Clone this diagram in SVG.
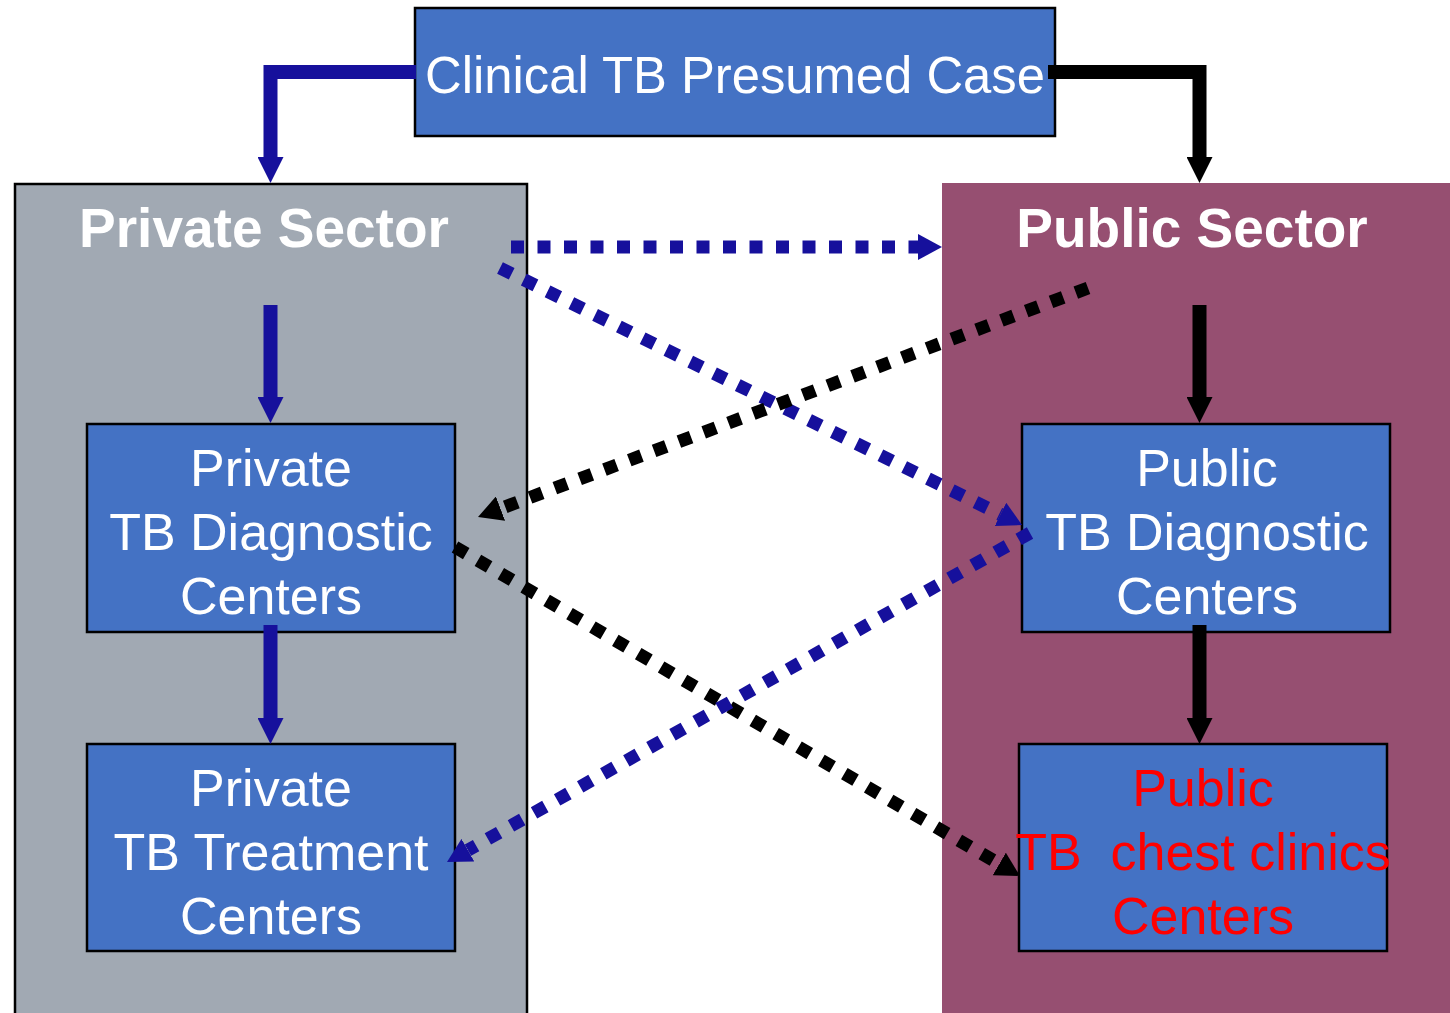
<svg xmlns="http://www.w3.org/2000/svg" width="1450" height="1013" viewBox="0 0 1450 1013">
  <style>
    .box { fill: #4472C4; stroke: #000; stroke-width: 2.5; }
    .label { font-family: "Liberation Sans", Arial, sans-serif; font-size: 52px; fill: #fff; text-anchor: middle; }
    .red { fill: #FF0000; }
    .head { font-family: "Liberation Sans", Arial, sans-serif; font-weight: bold; font-size: 55px; fill: #fff; text-anchor: middle; }
    .solid { fill: none; stroke-width: 14; stroke-linejoin: miter; stroke-linecap: butt; }
    .dot { fill: none; stroke-width: 13; stroke-dasharray: 13 13.5; stroke-linecap: butt; }
    .blue { stroke: #16109C; }
    .black { stroke: #000; }
  </style>
  <defs>
    <marker id="arrBlue" markerUnits="userSpaceOnUse" markerWidth="26" markerHeight="26" refX="0" refY="13" orient="auto">
      <path d="M0,0 L26,13 L0,26 z" fill="#16109C"/>
    </marker>
    <marker id="arrBlack" markerUnits="userSpaceOnUse" markerWidth="26" markerHeight="26" refX="0" refY="13" orient="auto">
      <path d="M0,0 L26,13 L0,26 z" fill="#000"/>
    </marker>
    <marker id="dotBlue" markerUnits="userSpaceOnUse" markerWidth="24" markerHeight="26" refX="0" refY="13" orient="auto">
      <path d="M0,0 L24,13 L0,26 z" fill="#16109C"/>
    </marker>
    <marker id="dotBlack" markerUnits="userSpaceOnUse" markerWidth="24" markerHeight="26" refX="0" refY="13" orient="auto">
      <path d="M0,0 L24,13 L0,26 z" fill="#000"/>
    </marker>
  </defs>

  <rect width="1450" height="1013" fill="#fff"/>

  <!-- sector panels -->
  <g id="private-sector">
    <rect x="15" y="184" width="512" height="840" fill="#A1A9B3" stroke="#000" stroke-width="2.5"/>
    <text class="head" x="264" y="247">Private Sector</text>
  </g>
  <g id="public-sector">
    <rect x="942" y="183" width="520" height="840" fill="#964F71"/>
    <text class="head" x="1192" y="247">Public Sector</text>
  </g>

  <!-- top node -->
  <g id="presumed-case">
    <rect class="box" x="415" y="8" width="640" height="128"/>
    <text class="label" x="735" y="93" textLength="620" lengthAdjust="spacingAndGlyphs">Clinical TB Presumed Case</text>
  </g>

  <g id="private-diagnostic">
    <rect class="box" x="87" y="424" width="368" height="208"/>
    <text class="label" x="271" y="486">Private</text>
    <text class="label" x="271" y="550">TB Diagnostic</text>
    <text class="label" x="271" y="614">Centers</text>
  </g>

  <g id="private-treatment">
    <rect class="box" x="87" y="744" width="368" height="207"/>
    <text class="label" x="271" y="806">Private</text>
    <text class="label" x="271" y="870">TB Treatment</text>
    <text class="label" x="271" y="934">Centers</text>
  </g>

  <g id="public-diagnostic">
    <rect class="box" x="1022" y="424" width="368" height="208"/>
    <text class="label" x="1207" y="486">Public</text>
    <text class="label" x="1207" y="550">TB Diagnostic</text>
    <text class="label" x="1207" y="614">Centers</text>
  </g>

  <g id="public-chest-clinics">
    <rect class="box" x="1019" y="744" width="368" height="207"/>
    <text class="label red" x="1203" y="806">Public</text>
    <text class="label red" x="1203" y="870" xml:space="preserve">TB  chest clinics</text>
    <text class="label red" x="1203" y="934">Centers</text>
  </g>

  <!-- connectors -->
  <g id="connectors">
    <!-- solid flows -->
    <path class="solid blue" d="M416,72 H270.5 V157" marker-end="url(#arrBlue)"/>
    <path class="solid black" d="M1048,72 H1199.5 V157" marker-end="url(#arrBlack)"/>
    <path class="solid blue" d="M270.5,305 V397" marker-end="url(#arrBlue)"/>
    <path class="solid blue" d="M270.5,625 V718" marker-end="url(#arrBlue)"/>
    <path class="solid black" d="M1199.5,305 V397" marker-end="url(#arrBlack)"/>
    <path class="solid black" d="M1199.5,625 V718" marker-end="url(#arrBlack)"/>

    <!-- dotted cross referrals -->
    <path class="dot blue" d="M511,247 H918" marker-end="url(#dotBlue)"/>
    <path class="dot blue" d="M500,268 L1000.5,514.4" marker-end="url(#dotBlue)"/>
    <path class="dot black" d="M1088,288 L500.5,508.6" marker-end="url(#dotBlack)"/>
    <path class="dot black" d="M455,547 L999.3,863.9" marker-end="url(#dotBlack)"/>
    <path class="dot blue" d="M1030,533 L467.9,850.2" marker-end="url(#dotBlue)"/>
  </g>
</svg>
